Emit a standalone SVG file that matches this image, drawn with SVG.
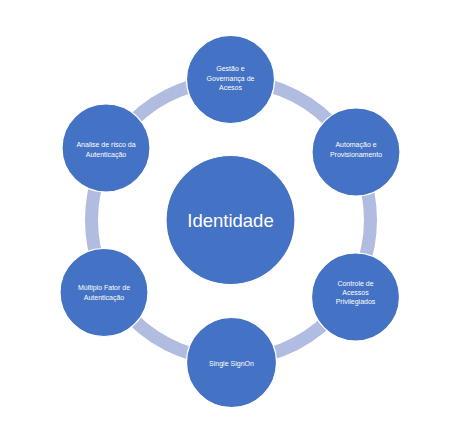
<svg xmlns="http://www.w3.org/2000/svg" width="470" height="445" viewBox="0 0 470 445">
<style>
.node{fill:#4472C4;stroke:#FFFFFF;stroke-width:1.2}
.lbl{font-family:"Liberation Sans",Arial,sans-serif;font-size:7px;fill:#FFFFFF;text-anchor:middle}
.big{font-family:"Liberation Sans",Arial,sans-serif;font-size:18.5px;fill:#FFFFFF;text-anchor:middle}
</style>
<rect width="470" height="445" fill="#FFFFFF"/>
<g id="connectors">
<circle cx="231" cy="220" r="139.5" fill="none" stroke="#B0BCE0" stroke-width="13"/>
</g>
<g id="center">
<circle class="node" cx="230.5" cy="220" r="64.5"/>
<text class="big" x="230.5" y="226.5">Identidade</text>
</g>
<g id="n-gestao">
<circle class="node" cx="230.5" cy="79.5" r="44"/>
<text class="lbl" x="230.5" y="71">Gestão e</text>
<text class="lbl" x="230.5" y="80.5">Governança de</text>
<text class="lbl" x="230.5" y="90">Acesos</text>
</g>
<g id="n-automacao">
<circle class="node" cx="356" cy="152" r="44"/>
<text class="lbl" x="356" y="147">Automação e</text>
<text class="lbl" x="356" y="156.5">Provisionamento</text>
</g>
<g id="n-controle">
<circle class="node" cx="355.5" cy="297" r="44"/>
<text class="lbl" x="355.5" y="286">Controle de</text>
<text class="lbl" x="355.5" y="295">Acessos</text>
<text class="lbl" x="355.5" y="304">Privilegiados</text>
</g>
<g id="n-sso">
<circle class="node" cx="231.5" cy="362.5" r="45"/>
<text class="lbl" x="231.5" y="365.5">Single SignOn</text>
</g>
<g id="n-multiplo">
<circle class="node" cx="104" cy="292.5" r="44"/>
<text class="lbl" x="104" y="290">Múltiplo Fator de</text>
<text class="lbl" x="104" y="299.5">Autenticação</text>
</g>
<g id="n-analise">
<circle class="node" cx="106" cy="148" r="44"/>
<text class="lbl" x="106" y="147">Analise de risco da</text>
<text class="lbl" x="106" y="156.5">Autenticação</text>
</g>
</svg>
